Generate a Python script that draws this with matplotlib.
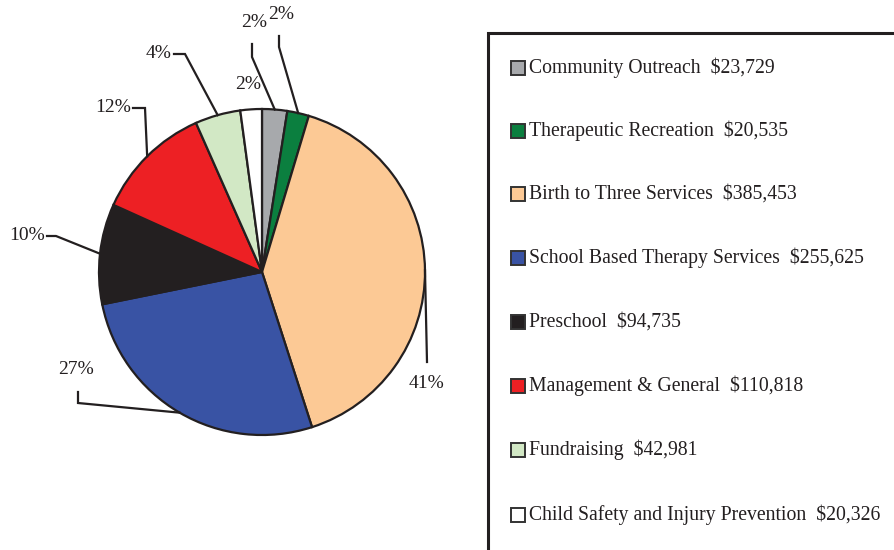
import numpy as np
import matplotlib
matplotlib.use("Agg")
import matplotlib.pyplot as plt
from matplotlib.patches import Rectangle

categories = ["Community Outreach", "Therapeutic Recreation", "Birth to Three Services",
              "School Based Therapy Services", "Preschool", "Management & General",
              "Fundraising", "Child Safety and Injury Prevention"]
amounts = [23729, 20535, 385453, 255625, 94735, 110818, 42981, 20326]
amount_labels = ["$23,729", "$20,535", "$385,453", "$255,625", "$94,735", "$110,818",
                 "$42,981", "$20,326"]
pct_labels = ["2%", "2%", "41%", "27%", "10%", "12%", "4%", "2%"]
colors = ["#a7a9ac", "#0b7f3f", "#fcc995", "#3953a4", "#231f20", "#ed2024", "#d2e8c5", "#ffffff"]

W, H = 895, 550
fig = plt.figure(figsize=(W / 100, H / 100), dpi=100)
ax = fig.add_axes([0, 0, 1, 1])
FONT = "Liberation Serif"
EDGE = "#231f20"

cx, cy, R = 262, H - 272, 163
wedges, _ = ax.pie(amounts, colors=colors, startangle=90, counterclock=False,
                   center=(cx, cy), radius=R,
                   wedgeprops=dict(edgecolor=EDGE, linewidth=1.6))
ax.set_xlim(0, W)
ax.set_ylim(0, H)
ax.set_aspect("equal")
ax.axis("off")

# leader-line layout (pixel coords, y from top): elbow points then label position
layout = [
    dict(pts=[(252, 57), (252, 44)], lab=(254, 22), ha="center"),
    dict(pts=[(279, 47), (279, 36)], lab=(281, 14), ha="center"),
    dict(pts=[(427, 362)], lab=(427, 384), ha="center"),
    dict(pts=[(78, 403), (78, 392)], lab=(76, 370), ha="center"),
    dict(pts=[(56, 236), (47, 236)], lab=(45, 235), ha="right"),
    dict(pts=[(145, 108), (133, 108)], lab=(131, 107), ha="right"),
    dict(pts=[(185, 54), (174, 54)], lab=(172, 53), ha="right"),
    dict(pts=None, lab=(248, 84), ha="center"),
]

for w, lay, txt in zip(wedges, layout, pct_labels):
    mid = np.deg2rad((w.theta1 + w.theta2) / 2)
    ax_, ay_ = cx + R * np.cos(mid), cy + R * np.sin(mid)
    if lay["pts"]:
        xs = [ax_] + [p[0] for p in lay["pts"]]
        ys = [ay_] + [H - p[1] for p in lay["pts"]]
        ax.plot(xs, ys, color=EDGE, lw=1.6, solid_joinstyle="miter")
    ax.text(lay["lab"][0], H - lay["lab"][1], txt, ha=lay["ha"], va="center",
            fontsize=14, family=FONT, color="#231f20")

# legend box
ax.add_patch(Rectangle((488, -10), 500, H - 33 + 10, fill=False, edgecolor=EDGE, lw=2.2,
                       clip_on=False))
ys_leg = [68, 131, 194, 258, 322, 386, 450, 515]
for y, c, name, amt in zip(ys_leg, colors, categories, amount_labels):
    ax.add_patch(Rectangle((511, H - y - 7), 14, 14, facecolor=c, edgecolor="#333333", lw=1.4))
    ax.text(529, H - y, f"{name}  {amt}", ha="left", va="center", fontsize=14.2,
            family=FONT, color="#231f20")

fig.savefig("out.png", dpi=100)
